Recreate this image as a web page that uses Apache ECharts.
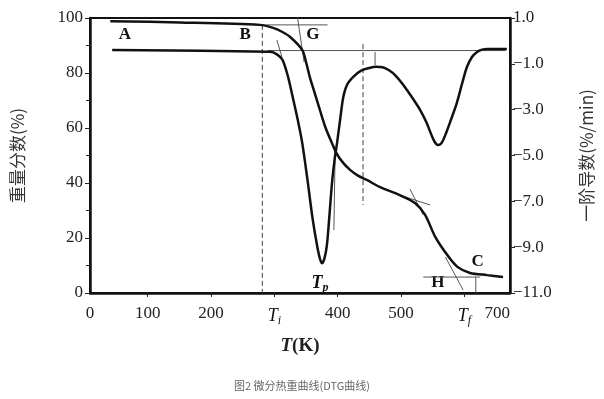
<!DOCTYPE html>
<html>
<head>
<meta charset="utf-8">
<script src="https://cdn.jsdelivr.net/npm/echarts@6/dist/echarts.min.js"></script>
<style>
  html, body { margin: 0; padding: 0; background: #fff; }
  #main { width: 604px; height: 399px; }
</style>
</head>
<body>
<div id="main"></div>
<script>
// TG: weight fraction (%) vs temperature (K)
var tgData = [
  [41, 98.8], [151, 98.4], [277, 97.5], [298, 96.4], [312, 95.0], [325, 93.1],
  [344, 88.4], [350, 84.0], [356, 78.5], [364, 72.5], [372, 66.5], [381, 60.0],
  [391, 54.5], [398, 50.9], [408, 47.5], [420, 44.7], [432, 42.7], [446, 41.1],
  [467, 38.5], [498, 35.6], [522, 32.7], [538, 28.4], [554, 20.4], [573, 13.8],
  [589, 9.5], [609, 7.3], [636, 6.5], [661, 5.8]
];
// DTG: first derivative (%/min)
var dtgData = [
  [44, -0.40], [293, -0.47], [300, -0.52], [307, -0.65], [313, -0.83], [321, -1.5],
  [329, -2.45], [337, -3.45], [344, -4.45], [352, -6.0], [360, -7.68], [366, -8.7],
  [371, -9.4], [375, -9.7], [379, -9.5], [383, -8.9], [387, -7.6], [391, -6.2],
  [395, -5.2], [399, -4.45], [404, -3.4], [409, -2.43], [415, -1.9], [425, -1.56],
  [437, -1.3], [450, -1.18], [461, -1.13], [471, -1.15], [481, -1.28], [491, -1.5],
  [503, -1.9], [517, -2.45], [530, -3.01], [540, -3.55], [548, -4.1], [553, -4.4],
  [558, -4.54], [564, -4.45], [570, -4.1], [578, -3.5], [588, -2.71], [596, -1.9],
  [604, -1.14], [612, -0.7], [620, -0.48], [628, -0.38], [636, -0.35], [667, -0.35]
];
// thin construction lines, TG axis (%)
var tgGuides = [
  [[277, 97.5], [384, 97.5]],
  [[336, 101], [347, 84]],
  [[498, 35.6], [546, 32.0]],
  [[514, 37.8], [535, 28.4]],
  [[535, 5.8], [625, 5.8]],
  [[618, 5.8], [618, 0]],
  [[570, 13.1], [598, 1.1]]
];
// thin construction lines, DTG axis (%/min)
var dtgGuides = [
  [[304, 0.04], [312, -0.70]],
  [[290, -0.42], [665, -0.42]],
  [[396, -4.76], [394, -8.25]],
  [[459, -0.48], [459, -1.05]]
];
var dashedGuides = [
  [[281, 97.5], [281, 0]],
  [[440, 90.5], [440, 32]]
];
var pointLabels = [
  ['A', 64, 93.8], ['B', 254, 93.8], ['G', 361, 93.8],
  ['C', 621, 11.3], ['H', 558, 3.6], ['{i|T}{s|p}', 372, 3.6]
];
var xTickValues = [9, 100, 200, 300, 400, 500, 600, 652];
var xTickLabels = ['0', '100', '200', '{i|T}{s|i}', '400', '500', '{i|T}{s|f}', '700'];
var yLeftTicks = [0, 20, 40, 60, 80, 100];
var yRightTicks = [1, -1, -3, -5, -7, -9, -11];

var serif = 'Liberation Serif';
var rich = {
  i: { fontFamily: serif, fontStyle: 'italic', fontSize: 18, color: '#111' },
  s: { fontFamily: serif, fontStyle: 'italic', fontSize: 12, color: '#111', padding: [10, 0, 0, 0] }
};

var series = [];
tgGuides.forEach(function (g) {
  series.push({ type: 'line', data: g, yAxisIndex: 0, symbol: 'none', silent: true,
    lineStyle: { color: '#555', width: 1 } });
});
dtgGuides.forEach(function (g) {
  series.push({ type: 'line', data: g, yAxisIndex: 1, symbol: 'none', silent: true,
    lineStyle: { color: '#555', width: 1 } });
});
dashedGuides.forEach(function (g) {
  series.push({ type: 'line', data: g, yAxisIndex: 0, symbol: 'none', silent: true,
    lineStyle: { color: '#444', width: 1, type: [5, 3] } });
});
series.push({
  name: 'TG', type: 'line', data: tgData, yAxisIndex: 0, smooth: 0.3, symbol: 'none',
  lineStyle: { color: '#111', width: 2.5 }
});
series.push({
  name: 'DTG', type: 'line', data: dtgData, yAxisIndex: 1, smooth: 0.3, symbol: 'none',
  lineStyle: { color: '#111', width: 2.5 }
});
series.push({
  type: 'scatter', yAxisIndex: 0, symbolSize: 1, silent: true,
  itemStyle: { opacity: 0 },
  data: pointLabels.map(function (p) { return { value: [p[1], p[2]], name: p[0] }; }),
  label: {
    show: true, position: 'inside', formatter: '{b}', opacity: 1,
    fontFamily: serif, fontWeight: 'bold', fontSize: 17, color: '#111', rich: rich
  }
});

var option = {
  animation: false,
  title: {
    text: '图2 微分热重曲线(DTG曲线)',
    left: 'center', bottom: 3,
    textStyle: { fontSize: 11, fontWeight: 'normal', color: '#666', fontFamily: 'Noto Sans CJK SC' }
  },
  grid: { left: 90, right: 94, top: 18, bottom: 106, show: true, borderColor: '#111', borderWidth: 2 },
  xAxis: {
    type: 'value', min: 9, max: 672,
    name: '{i|T}{b|(K)}', nameLocation: 'middle', nameGap: 44,
    nameTextStyle: { rich: {
      i: { fontFamily: serif, fontStyle: 'italic', fontWeight: 'bold', fontSize: 19, color: '#222' },
      b: { fontFamily: serif, fontWeight: 'bold', fontSize: 19, color: '#222' }
    } },
    axisLine: { lineStyle: { color: '#111', width: 2.5 } },
    axisTick: { show: true, customValues: xTickValues.slice(1, 7), length: 4, lineStyle: { color: '#222' } },
    axisLabel: {
      customValues: xTickValues, margin: 12, fontFamily: serif, fontSize: 17, color: '#222', rich: rich,
      formatter: function (v) {
        var i = xTickValues.indexOf(Math.round(v));
        return i >= 0 ? xTickLabels[i] : '';
      }
    },
    splitLine: { show: false }
  },
  yAxis: [{
    type: 'value', min: 0, max: 100, position: 'left',
    name: '重量分数(%)', nameLocation: 'middle', nameRotate: 90, nameGap: 64,
    nameTextStyle: { fontFamily: 'Noto Sans CJK SC', fontSize: 17, color: '#333' },
    axisLine: { show: true, lineStyle: { color: '#111', width: 2.5 } },
    axisTick: { show: true, customValues: yLeftTicks, length: 5, lineStyle: { color: '#222' } },
    minorTick: { show: true, splitNumber: 2, length: 4, lineStyle: { color: '#222' } },
    axisLabel: { customValues: yLeftTicks, margin: 7, fontFamily: serif, fontSize: 17, color: '#222' },
    splitLine: { show: false }
  }, {
    type: 'value', min: -11, max: 1, position: 'right',
    name: '一阶导数(%/min)', nameLocation: 'middle', nameRotate: 90, nameGap: 68,
    nameTextStyle: { fontFamily: 'Noto Sans CJK SC', fontSize: 17, color: '#333' },
    axisLine: { show: true, lineStyle: { color: '#111', width: 2.5 } },
    axisTick: { show: true, customValues: yRightTicks, length: 5, lineStyle: { color: '#222' } },
    axisLabel: {
      customValues: yRightTicks, margin: 3, fontFamily: serif, fontSize: 17, color: '#222',
      formatter: function (v) { return v.toFixed(1).replace('-', '\u2212'); }
    },
    splitLine: { show: false }
  }],
  series: series
};

var chart = echarts.init(document.getElementById('main'));
chart.setOption(option);
</script>
</body>
</html>
